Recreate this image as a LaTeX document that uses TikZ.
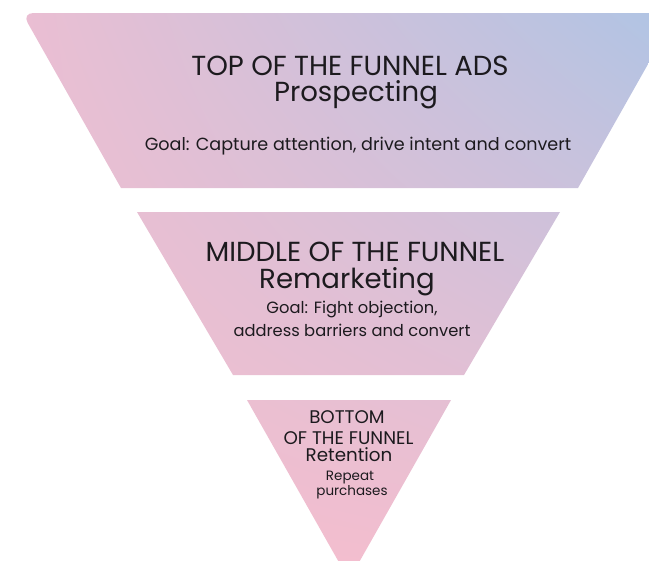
\documentclass[tikz,border=0pt]{standalone}
\usepackage{fontspec}
\setmainfont{Poppins}
\usepackage{tikz}
\usetikzlibrary{calc}
\usetikzlibrary{shadings}
\definecolor{FunnelPinkA}{RGB}{236,190,210}
\definecolor{FunnelBlue}{RGB}{176,196,228}
\definecolor{FunnelPinkB}{RGB}{246,190,205}
\definecolor{FunnelPinkC}{RGB}{240,190,208}
\definecolor{FunnelText}{RGB}{28,26,30}
\tikzset{
TierLine/.style = {anchor=base,
        text=FunnelText,
        inner sep=0pt
            },
% other common sty definitions like
BigTitle/.style = {TierLine,
        font=\fontsize{19.6}{24}\selectfont
            },
GoalText/.style = {TierLine,
        font=\fontsize{11.6}{14}\selectfont
            }
        }
\tikzset{
SmallTitle/.style = {TierLine,
        font=\fontsize{13}{15}\selectfont
            },
SmallGoal/.style = {TierLine,
        font=\fontsize{9.6}{12}\selectfont
            }
        }

\begin{document}
\begin{tikzpicture}[x=0.025cm, y=-0.025cm]

%%% Picture frame:

\clip (0,0) rectangle (649,560);

%%% Defining points:

\coordinate (T1) at (22.1,13);
\coordinate (T2) at (676.9,13);
\coordinate (T3) at (578,188);
\coordinate (T4) at (121,188);

\coordinate (M1) at (137,212);
\coordinate (M2) at (560,212);
\coordinate (M3) at (464,375);
\coordinate (M4) at (233,375);

\coordinate (B1) at (247,400);
\coordinate (B2) at (451,400);
\coordinate (B3) at (349,580);

%%% Funnel pieces, one shading for all three:

\begin{scope}
\clip
     (T4) [rounded corners=8pt] -- 
     (T1) [sharp corners] -- 
     (T2) -- 
     (T3) -- 
     cycle
     (M1) -- 
     (M2) -- 
     (M3) -- 
     (M4) -- 
     cycle
     (B1) -- 
     (B2) -- 
     (B3) -- 
     cycle;
\shade[
     upper left=FunnelPinkA,
     upper right=FunnelBlue,
     lower left=FunnelPinkB,
     lower right=FunnelPinkC,
     ]
     (0,0) rectangle (649,560);
\end{scope}

%%% Texts, one node per line at its base line:

\node[BigTitle] (TopHead) at (350,75.5) {TOP OF THE FUNNEL ADS};
\node[BigTitle] (TopSub) at (356,101.5) {Prospecting};
\node[GoalText, font=\fontsize{12.5}{14}\selectfont] (TopGoal) at (358,150) {Goal: Capture attention, drive intent and convert};

\node[BigTitle] (MidHead) at (355,261.5) {MIDDLE OF THE FUNNEL};
\node[BigTitle] (MidSub) at (347,288.5) {Remarketing};
\node[GoalText] (MidGoalA) at (352,313.5) {Goal: Fight objection,};
\node[GoalText] (MidGoalB) at (352,336) {address barriers and convert};

\node[SmallTitle] (BotHead) at (347,423) {BOTTOM};
\node[SmallTitle] (BotHeadB) at (348.5,444.5) {OF THE FUNNEL};
\node[SmallTitle] (BotSub) at (349,461) {Retention};
\node[SmallGoal] (BotGoalA) at (350,480) {Repeat};
\node[SmallGoal] (BotGoalB) at (352,495) {purchases};

\end{tikzpicture}
\end{document}
